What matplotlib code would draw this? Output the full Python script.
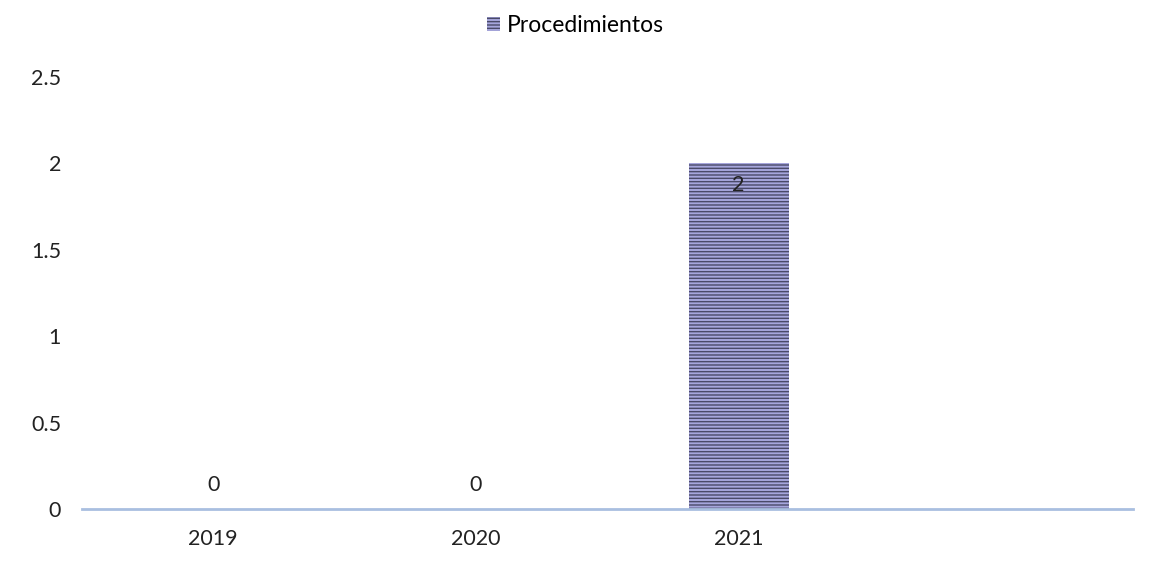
import matplotlib
matplotlib.use("Agg")
import matplotlib.pyplot as plt
import numpy as np

plt.rcParams['font.family'] = ['Lato', 'DejaVu Sans']
plt.rcParams['hatch.linewidth'] = 1.0

# Datos
anios = ["2019", "2020", "2021", ""]
procedimientos = [0, 0, 2, None]
yticks = [0, 0.5, 1, 1.5, 2, 2.5]

fig = plt.figure(figsize=(11.51, 5.65), dpi=100)
ax = fig.add_axes([0.0712, 0.099, 0.9128, 0.765])

x = np.arange(len(anios))
vals = [v if v is not None else 0 for v in procedimientos]
barras = ax.bar(x, vals, width=0.38, color="#a6a6dc", edgecolor="#4a4a68",
                hatch="-----", linewidth=0, label="Procedimientos")

# etiquetas de datos
for i, v in enumerate(procedimientos):
    if v is None:
        continue
    if v == 0:
        ax.text(x[i], v + 0.08, str(v), ha="center", va="bottom", fontsize=15.5, color="#222222")
    else:
        ax.text(x[i], v - 0.07, str(v), ha="center", va="top", fontsize=15.5, color="#222222")

ax.set_xlim(-0.5, len(anios) - 0.5)
ax.set_ylim(0, 2.5)
ax.set_yticks(yticks)
ax.set_yticklabels(["0", "0.5", "1", "1.5", "2", "2.5"])
ax.set_xticks(x)
ax.set_xticklabels(anios)
ax.tick_params(axis="both", length=0, labelsize=15.5, colors="#222222")
ax.tick_params(axis="y", pad=15)
ax.tick_params(axis="x", pad=14)

for s in ["top", "right", "left"]:
    ax.spines[s].set_visible(False)
ax.spines["bottom"].set_color("#a9bfe0")
ax.spines["bottom"].set_linewidth(2)

leg = fig.legend(handles=[barras], loc="upper center", bbox_to_anchor=(0.5, 1.01),
                 frameon=False, fontsize=16.5, handlelength=0.6, handleheight=0.6,
                 handletextpad=0.3)

fig.savefig("out.png", dpi=100)
